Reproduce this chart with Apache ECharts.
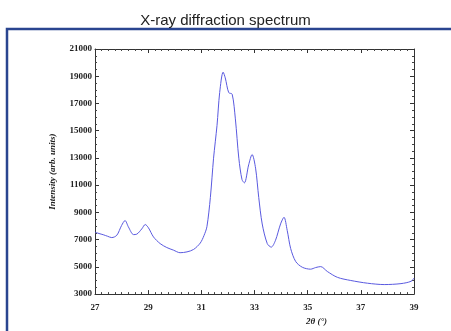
<!DOCTYPE html>
<html>
<head>
<meta charset="utf-8">
<script src="https://cdn.jsdelivr.net/npm/echarts@6/dist/echarts.min.js"></script>
<style>
html,body{margin:0;padding:0;background:#fff;}
#chart{width:451px;height:331px;}
</style>
</head>
<body>
<div id="chart"></div>
<script>
var twoTheta = [27.0,27.15,27.31,27.47,27.63,27.82,28.0,28.13,28.26,28.45,28.57,28.76,28.89,29.01,29.2,29.45,29.7,29.95,30.2,30.46,30.71,30.96,31.1,31.21,31.34,31.46,31.59,31.69,31.82,31.9,32.03,32.16,32.28,32.41,32.53,32.62,32.78,32.91,33.04,33.16,33.29,33.48,33.63,33.79,33.98,34.11,34.23,34.36,34.55,34.8,35.11,35.3,35.49,35.74,36.12,36.62,37.25,37.88,38.51,38.89,39.0];
var intensity = [7550,7450,7360,7250,7150,7320,8040,8400,7920,7370,7400,7790,8110,7870,7200,6710,6420,6230,6040,6100,6280,6750,7300,7950,10100,12980,15390,17800,19300,18880,17800,17680,15870,12980,11410,11170,12490,13250,12250,10085,8150,6710,6450,6950,8150,8640,7680,6350,5390,4970,4830,4950,5020,4660,4230,4000,3800,3700,3770,3940,4180];
var xTicks = {min:27, max:39, step:2};
var yTicks = {min:3000, max:21000, step:2000};
var titleText = 'X-ray diffraction spectrum';
var xName = '2θ (°)';
var yName = 'Intensity (arb. units)';

var pts = twoTheta.map(function(x,i){return [x,intensity[i]];});
var chart = echarts.init(document.getElementById('chart'), null, {renderer:'canvas'});
var lblStyle = {fontFamily:'Liberation Serif', fontWeight:'bold', fontSize:9, color:'#222'};
var axLine = {show:true, onZero:false, lineStyle:{color:'#333', width:1}};
var tick = {show:true, inside:true, length:4, lineStyle:{color:'#333'}};
function minor(n){return {show:true, splitNumber:n, length:2, lineStyle:{color:'#444'}};}
chart.setOption({
  animation:false,
  backgroundColor:'#fff',
  title:{text:titleText, left:'center', top:8, textStyle:{fontFamily:'Liberation Sans', fontWeight:'normal', fontSize:15, color:'#222'}},
  graphic:[{type:'rect', shape:{x:7, y:29, width:470, height:320}, style:{fill:'none', stroke:'#2a4590', lineWidth:2.5}, silent:true}],
  grid:{left:95, right:37, top:49, bottom:33},
  xAxis:[
    {type:'value', min:xTicks.min, max:xTicks.max, interval:xTicks.step, position:'bottom',
     axisLine:axLine, axisTick:tick, minorTick:minor(8), splitLine:{show:false},
     axisLabel:Object.assign({margin:9, formatter:function(v){return String(v);}}, lblStyle),
     name:xName, nameLocation:'middle', nameGap:21,
     nameTextStyle:{fontFamily:'Liberation Serif', fontWeight:'bold', fontStyle:'italic', fontSize:9, color:'#222', padding:[0,0,0,124]}},
    {type:'value', min:xTicks.min, max:xTicks.max, interval:xTicks.step, position:'top',
     axisLine:axLine, axisTick:tick, minorTick:minor(8), splitLine:{show:false}, axisLabel:{show:false}}
  ],
  yAxis:[
    {type:'value', min:yTicks.min, max:yTicks.max, interval:yTicks.step, position:'left',
     axisLine:axLine, axisTick:tick, minorTick:minor(4), splitLine:{show:false},
     axisLabel:Object.assign({margin:3, formatter:function(v){return String(v);}}, lblStyle),
     name:yName, nameLocation:'middle', nameGap:38, nameRotate:90,
     nameTextStyle:{fontFamily:'Liberation Serif', fontWeight:'bold', fontStyle:'italic', fontSize:9, color:'#222'}},
    {type:'value', min:yTicks.min, max:yTicks.max, interval:yTicks.step, position:'right',
     axisLine:axLine, axisTick:tick, minorTick:minor(4), splitLine:{show:false}, axisLabel:{show:false}}
  ],
  series:[{type:'line', data:pts, showSymbol:false, smooth:0.3, lineStyle:{color:'#5a5ae0', width:1}, itemStyle:{color:'#5a5ae0'}}]
});
</script>
</body>
</html>
